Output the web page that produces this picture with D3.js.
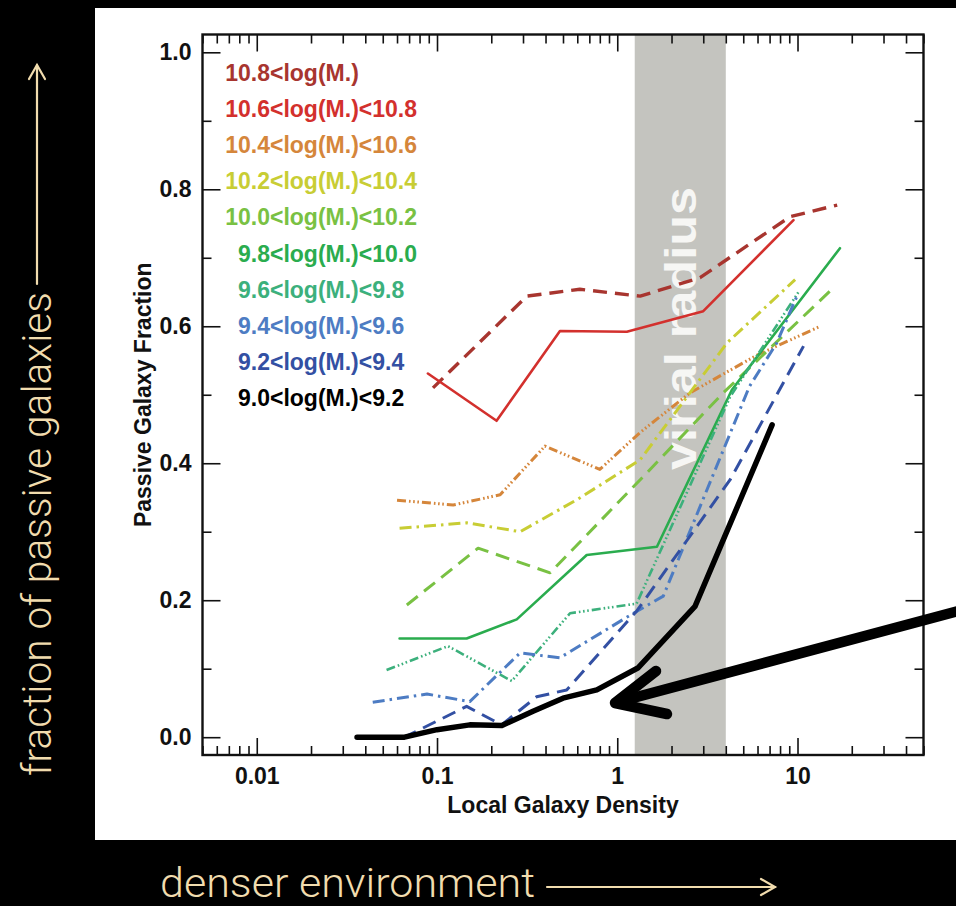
<!DOCTYPE html>
<html>
<head>
<meta charset="utf-8">
<script src="https://cdn.jsdelivr.net/npm/d3@7"></script>
<style>
  html, body { margin: 0; padding: 0; background: #000; }
  svg { display: block; }
</style>
</head>
<body>
<svg id="chart" width="956" height="906"></svg>
<script>
// ---- data ---------------------------------------------------------------
// stellar-mass bins, highest first
const massBins = [
  "10.8<log(M.)",
  "10.6<log(M.)<10.8",
  "10.4<log(M.)<10.6",
  "10.2<log(M.)<10.4",
  "10.0<log(M.)<10.2",
  "9.8<log(M.)<10.0",
  "9.6<log(M.)<9.8",
  "9.4<log(M.)<9.6",
  "9.2<log(M.)<9.4",
  "9.0<log(M.)<9.2"
];

// [local galaxy density, passive galaxy fraction] for each mass bin
const m108 = [[0.095,0.510],[0.315,0.644],[0.62,0.654],[1.34,0.644],[2.88,0.671],[9.1,0.760],[16.6,0.777]];
const m106 = [[0.089,0.531],[0.214,0.462],[0.481,0.593],[1.13,0.592],[3.0,0.622],[9.5,0.755]];
const m104 = [[0.060,0.346],[0.123,0.339],[0.224,0.354],[0.397,0.425],[0.80,0.391],[1.34,0.445],[2.54,0.503],[5.97,0.558],[13.4,0.600]];
const m102 = [[0.062,0.305],[0.146,0.313],[0.289,0.300],[0.60,0.347],[1.34,0.405],[4.07,0.576],[9.7,0.668]];
const m100 = [[0.068,0.193],[0.169,0.276],[0.424,0.240],[1.46,0.386],[3.88,0.503],[15.8,0.656]];
const m98  = [[0.062,0.144],[0.146,0.144],[0.277,0.172],[0.677,0.266],[1.66,0.278],[4.32,0.507],[17.2,0.714]];
const m96  = [[0.0525,0.098],[0.115,0.133],[0.260,0.082],[0.547,0.181],[1.28,0.195],[4.23,0.497],[10.3,0.653]];
const m94  = [[0.044,0.051],[0.088,0.063],[0.152,0.052],[0.289,0.123],[0.481,0.116],[1.23,0.181],[1.80,0.206],[5.41,0.512],[7.68,0.576],[10.0,0.646]];
const m92  = [[0.037,0.0],[0.066,0.0],[0.146,0.045],[0.228,0.018],[0.357,0.059],[0.524,0.069],[1.28,0.184],[4.23,0.376],[10.8,0.571]];
const m90  = [[0.036,0.0],[0.066,0.0],[0.100,0.011],[0.152,0.018],[0.229,0.017],[0.341,0.038],[0.50,0.057],[0.77,0.069],[1.30,0.101],[2.70,0.191],[7.23,0.456]];

const seriesData = [m108, m106, m104, m102, m100, m98, m96, m94, m92, m90];

// axis ticks
const yMajorTicks = [0, 0.2, 0.4, 0.6, 0.8, 1.0];
const yTickLabels = ["0.0", "0.2", "0.4", "0.6", "0.8", "1.0"];
const yMinorTicks = [0.1, 0.3, 0.5, 0.7, 0.9];
const xMajorTicks = [0.01, 0.1, 1, 10];
const xTickLabels = ["0.01", "0.1", "1", "10"];

// density range of the virial radius
const virialRange = [1.25, 4];

// ---- styles -------------------------------------------------------------
const DASH = "14,8";
const DASHDOT = "12,5,2.5,5";
const DASH3DOT = "9,3,1.6,2.6,1.6,2.6,1.6,3";
const seriesStyle = [
  { color: "#a8352f", dash: DASH,     width: 3.4 },
  { color: "#d3302d", dash: null,     width: 2.6 },
  { color: "#d5863b", dash: DASH3DOT, width: 3.0 },
  { color: "#c8cd34", dash: DASHDOT,  width: 3.0 },
  { color: "#79c143", dash: DASH,     width: 3.0 },
  { color: "#2aac4e", dash: null,     width: 2.6 },
  { color: "#3cb07c", dash: DASH3DOT, width: 2.6 },
  { color: "#4d7cc3", dash: DASHDOT,  width: 3.0 },
  { color: "#3350a3", dash: DASH,     width: 3.0 },
  { color: "#000000", dash: null,     width: 5.5 }
];

const AXIS_FONT = "'Liberation Sans', Arial, Helvetica, sans-serif";
const NOTE_FONT = "Roboto, Lato, 'Open Sans', sans-serif";
const CREAM = "#f1dcae";

// ---- layout -------------------------------------------------------------
const svg = d3.select("#chart");
const W = 956, H = 906;
const frame = { left: 202.5, right: 923.5, top: 34.5, bottom: 755 };

svg.append("rect").attr("width", W).attr("height", H).attr("fill", "#000");
svg.append("rect").attr("x", 95).attr("y", 8).attr("width", W - 95).attr("height", 832).attr("fill", "#fff");

const x = d3.scaleLog().domain([0.005, 50]).range([frame.left, frame.right]);
const y = d3.scaleLinear().domain([-0.026, 1.026]).range([frame.bottom, frame.top]);

// virial radius band
svg.append("rect")
  .attr("x", x(virialRange[0]))
  .attr("y", frame.top)
  .attr("width", x(virialRange[1]) - x(virialRange[0]))
  .attr("height", frame.bottom - frame.top)
  .attr("fill", "#c4c4bf");

svg.append("text")
  .attr("transform", `translate(${(x(virialRange[0]) + x(virialRange[1])) / 2 + 16},328.5) rotate(-90)`)
  .attr("text-anchor", "middle")
  .attr("font-family", "'Liberation Sans', Arial, sans-serif")
  .attr("font-weight", "bold")
  .attr("font-size", 44)
  .attr("textLength", 283)
  .attr("lengthAdjust", "spacingAndGlyphs")
  .attr("fill", "#f6f6f4")
  .text("virial radius");

// ---- axes ---------------------------------------------------------------
function styleAxis(g) {
  g.select(".domain").remove();
  g.selectAll("line").attr("stroke", "#111").attr("stroke-width", 1.6);
  g.attr("font-family", AXIS_FONT).attr("font-size", 23).attr("font-weight", "bold");
  g.selectAll("text").attr("fill", "#111");
}

const minorX = x.ticks().filter(v => !xMajorTicks.some(m => Math.abs(m - v) < 1e-9));

svg.append("g").attr("transform", `translate(0,${frame.bottom})`)
  .call(d3.axisBottom(x).tickValues(minorX).tickSize(-9).tickFormat(""))
  .call(styleAxis);
svg.append("g").attr("transform", `translate(0,${frame.bottom})`)
  .call(d3.axisBottom(x).tickValues(xMajorTicks).tickSize(-17).tickPadding(13)
        .tickFormat((d, i) => xTickLabels[i]))
  .call(styleAxis);
svg.append("g").attr("transform", `translate(0,${frame.top})`)
  .call(d3.axisTop(x).tickValues(minorX).tickSize(-9).tickFormat(""))
  .call(styleAxis);
svg.append("g").attr("transform", `translate(0,${frame.top})`)
  .call(d3.axisTop(x).tickValues(xMajorTicks).tickSize(-17).tickFormat(""))
  .call(styleAxis);

svg.append("g").attr("transform", `translate(${frame.left},0)`)
  .call(d3.axisLeft(y).tickValues(yMajorTicks).tickSize(-18).tickPadding(11)
        .tickFormat((d, i) => yTickLabels[i]))
  .call(styleAxis);
svg.append("g").attr("transform", `translate(${frame.left},0)`)
  .call(d3.axisLeft(y).tickValues(yMinorTicks).tickSize(-9).tickFormat(""))
  .call(styleAxis);
svg.append("g").attr("transform", `translate(${frame.right},0)`)
  .call(d3.axisRight(y).tickValues(yMajorTicks).tickSize(-18).tickFormat(""))
  .call(styleAxis);
svg.append("g").attr("transform", `translate(${frame.right},0)`)
  .call(d3.axisRight(y).tickValues(yMinorTicks).tickSize(-9).tickFormat(""))
  .call(styleAxis);

svg.append("rect")
  .attr("x", frame.left).attr("y", frame.top)
  .attr("width", frame.right - frame.left).attr("height", frame.bottom - frame.top)
  .attr("fill", "none").attr("stroke", "#111").attr("stroke-width", 2.4);

// axis titles
svg.append("text")
  .attr("x", (frame.left + frame.right) / 2).attr("y", 813)
  .attr("text-anchor", "middle")
  .attr("font-family", AXIS_FONT).attr("font-size", 23).attr("font-weight", "bold")
  .attr("fill", "#111")
  .text("Local Galaxy Density");

svg.append("text")
  .attr("transform", `translate(151,${(frame.top + frame.bottom) / 2}) rotate(-90)`)
  .attr("text-anchor", "middle")
  .attr("font-family", AXIS_FONT).attr("font-size", 23).attr("font-weight", "bold")
  .attr("fill", "#111")
  .text("Passive Galaxy Fraction");

// ---- series -------------------------------------------------------------
const line = d3.line().x(d => x(d[0])).y(d => y(d[1]));

svg.append("g").selectAll("path")
  .data(seriesData)
  .join("path")
  .attr("d", line)
  .attr("fill", "none")
  .attr("stroke", (d, i) => seriesStyle[i].color)
  .attr("stroke-width", (d, i) => seriesStyle[i].width)
  .attr("stroke-dasharray", (d, i) => seriesStyle[i].dash)
  .attr("stroke-linejoin", "round")
  .attr("stroke-linecap", (d, i) => seriesStyle[i].dash ? "butt" : "round");

// ---- legend (labels aligned on the first "<") ---------------------------
const legendAnchorX = 270, legendTop = 81, legendStep = 36.1;
const legend = svg.append("g")
  .attr("font-family", AXIS_FONT).attr("font-size", 23).attr("font-weight", "bold");
massBins.forEach((label, i) => {
  const t = legend.append("text")
    .attr("x", legendAnchorX).attr("y", legendTop + i * legendStep)
    .attr("fill", seriesStyle[i].color)
    .text(label);
  const prefix = t.node().getSubStringLength(0, label.indexOf("<"));
  t.attr("x", legendAnchorX - prefix);
});

// ---- pointer arrow ------------------------------------------------------
const arrow = svg.append("g")
  .attr("stroke", "#000").attr("stroke-width", 10.5)
  .attr("stroke-linecap", "round").attr("stroke-linejoin", "round").attr("fill", "none");
arrow.append("line").attr("x1", 962).attr("y1", 610).attr("x2", 618).attr("y2", 702);
arrow.append("polyline").attr("points", "656,671 615,703 667,714");

// ---- outer annotations --------------------------------------------------
svg.append("text")
  .attr("transform", "translate(51,776) rotate(-90)")
  .attr("font-family", NOTE_FONT).attr("font-weight", 300).attr("font-size", 41)
  .attr("textLength", 484).attr("lengthAdjust", "spacingAndGlyphs")
  .attr("fill", CREAM)
  .text("fraction of passive galaxies");
const upArrow = svg.append("g").attr("stroke", CREAM).attr("stroke-width", 2.2)
  .attr("fill", "none").attr("stroke-linecap", "round");
upArrow.append("line").attr("x1", 37).attr("y1", 284).attr("x2", 37).attr("y2", 65);
upArrow.append("polyline").attr("points", "29,79 37,65 45,79");

svg.append("text")
  .attr("x", 160).attr("y", 897)
  .attr("font-family", NOTE_FONT).attr("font-weight", 300).attr("font-size", 41)
  .attr("textLength", 375).attr("lengthAdjust", "spacingAndGlyphs")
  .attr("fill", CREAM)
  .text("denser environment");
const rightArrow = svg.append("g").attr("stroke", CREAM).attr("stroke-width", 2.2)
  .attr("fill", "none").attr("stroke-linecap", "round");
rightArrow.append("line").attr("x1", 547).attr("y1", 887).attr("x2", 775).attr("y2", 887);
rightArrow.append("polyline").attr("points", "761,879 775,887 761,895");
</script>
</body>
</html>
